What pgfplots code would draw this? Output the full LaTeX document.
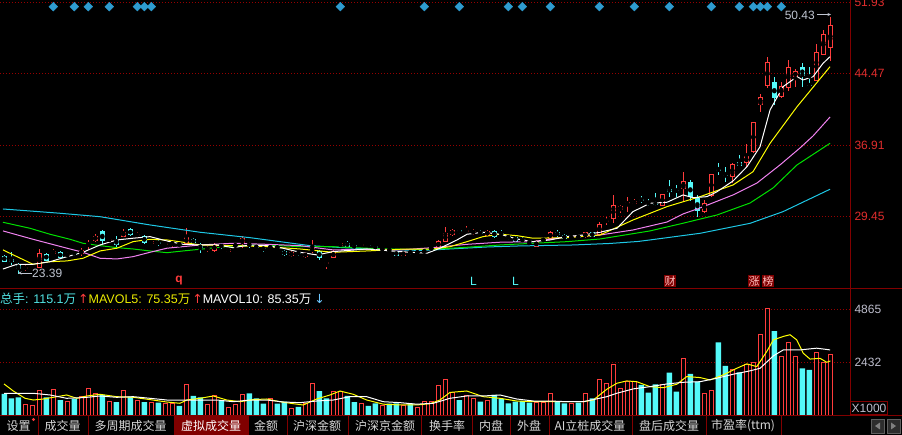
\documentclass[border=0pt]{standalone}
\usepackage{pgfplots}
\pgfplotsset{compat=1.18}
\usepackage{pgfplotstable}
\usetikzlibrary{arrows.meta}
\usepackage{fontspec}
\setmainfont{Liberation Sans}
\newfontfamily\cjk{Noto Sans CJK SC}
\newfontfamily\sym{DejaVu Sans}
\definecolor{upred}{RGB}{255,60,60}
\definecolor{dncyan}{RGB}{84,250,250}
\definecolor{gridred}{RGB}{150,0,0}
\definecolor{sepred}{RGB}{130,0,0}
\definecolor{ma10c}{RGB}{255,255,0}
\definecolor{ma20c}{RGB}{240,130,240}
\definecolor{ma30c}{RGB}{0,225,0}
\definecolor{ma60c}{RGB}{30,200,230}
\definecolor{dia}{RGB}{46,156,208}
\definecolor{lbl}{RGB}{190,196,208}
\definecolor{pricelbl}{RGB}{225,45,45}
\definecolor{vollbl}{RGB}{190,190,205}
\definecolor{tabbg}{RGB}{128,0,0}
\definecolor{tabtxt}{RGB}{215,215,215}
\definecolor{legcyan}{RGB}{80,225,225}
\definecolor{legyel}{RGB}{235,235,0}
\definecolor{legblue}{RGB}{110,200,255}

\pgfplotstableread{
i o h l c
3 23.92 24.28 23.65 24.02
4 23.86 24.18 23.65 23.97
5 24.00 25.97 23.97 25.52
7 25.41 25.97 25.34 25.76
9 25.29 25.66 25.13 25.39
11 25.41 26.08 25.23 25.87
12 26.39 26.92 25.87 26.50
13 26.81 27.55 26.71 27.34
15 26.87 27.13 26.71 26.97
17 27.27 28.05 27.23 27.79
19 27.39 27.76 27.13 27.50
21 26.46 26.92 26.39 26.81
23 26.44 26.81 26.29 26.55
24 26.50 26.87 26.08 26.60
26 26.46 28.15 26.39 27.27
29 25.92 26.29 25.66 26.02
30 25.76 26.60 25.66 26.46
32 25.69 26.08 25.55 25.94
33 26.29 26.60 26.08 26.39
34 26.57 27.37 26.05 27.16
38 26.08 26.39 25.87 26.18
41 25.23 25.76 25.13 25.62
43 25.16 25.60 25.07 25.52
44 25.76 26.92 25.52 26.05
46 24.36 24.71 23.86 24.63
47 24.99 25.81 24.97 25.76
48 26.29 26.66 26.23 26.57
51 26.29 26.55 26.23 26.50
54 25.92 26.18 25.76 26.02
57 25.26 25.76 25.18 25.62
59 25.55 25.87 25.34 25.66
60 25.66 25.97 25.44 25.76
61 25.97 26.29 25.81 26.08
62 26.11 26.87 26.02 26.81
63 26.74 28.29 26.71 27.62
64 27.44 28.08 27.34 27.97
66 27.81 28.39 27.60 27.92
67 27.71 28.02 27.44 27.81
69 27.37 27.97 27.29 27.90
76 26.21 26.87 26.13 26.81
77 26.87 27.13 26.71 26.97
78 27.02 27.87 26.92 27.79
81 27.13 27.39 26.97 27.23
83 27.18 27.76 27.13 27.73
85 27.44 28.85 27.39 28.60
86 28.87 29.37 28.50 28.97
87 29.10 31.66 28.74 30.60
88 30.08 30.55 29.76 30.50
89 30.68 31.41 29.90 30.89
90 30.68 31.20 30.60 31.03
94 30.50 31.76 30.45 31.73
97 32.26 34.11 30.89 33.13
100 29.87 31.13 29.73 30.85
101 31.58 33.87 31.48 33.84
104 33.58 34.99 32.95 34.89
106 34.99 37.03 34.64 35.76
107 36.22 39.34 36.11 39.31
108 41.13 42.29 40.43 42.01
109 43.13 46.16 42.89 45.63
111 42.01 43.52 41.90 43.13
112 42.96 45.87 42.64 45.10
113 44.05 44.92 43.00 44.71
116 43.69 47.56 43.66 46.68
117 46.40 49.03 46.35 48.58
118 47.17 50.43 45.77 49.56
}\upT

\pgfplotstableread{
i o h l c
0 25.23 25.34 24.60 24.63
1 24.92 25.62 24.28 24.57
2 24.36 24.50 23.38 23.86
6 25.44 25.55 24.71 24.74
8 25.69 25.76 24.92 24.99
10 25.55 25.87 25.23 25.39
14 27.87 27.97 26.50 26.81
16 26.92 27.37 26.21 26.39
18 28.05 28.13 27.34 27.44
20 27.37 27.44 26.50 26.63
22 26.66 26.92 26.29 26.55
25 26.50 26.71 26.18 26.39
27 27.02 27.13 26.50 26.57
28 26.46 26.55 25.55 25.97
31 26.34 26.60 25.97 26.23
35 26.50 26.71 26.08 26.39
36 26.29 26.39 25.97 26.08
37 26.08 26.21 25.69 25.97
39 26.18 26.29 25.97 26.08
40 25.76 25.87 25.23 25.34
42 25.60 25.76 25.26 25.50
45 25.76 25.87 24.86 25.05
49 26.63 26.81 26.18 26.21
50 26.39 26.44 26.08 26.11
52 26.44 26.55 26.18 26.34
53 26.23 26.39 25.97 26.13
55 25.92 26.08 25.66 25.81
56 25.69 25.76 25.23 25.26
58 25.66 25.87 25.34 25.55
65 27.97 28.02 27.55 27.73
68 27.71 27.92 27.44 27.60
70 27.87 27.97 27.08 27.23
71 27.60 28.02 27.29 27.50
72 27.34 27.39 26.92 27.10
73 27.27 27.39 26.71 26.74
74 26.97 27.18 26.66 26.87
75 26.76 26.92 26.23 26.66
79 27.73 27.97 27.18 27.39
80 27.44 27.50 26.97 27.02
82 27.29 27.44 27.02 27.18
84 27.73 27.76 27.18 27.27
91 31.18 31.55 30.78 31.08
92 30.81 31.24 30.50 30.71
93 30.85 31.84 30.50 30.60
95 32.29 33.24 31.48 32.00
96 32.18 32.71 31.48 32.08
98 32.99 33.24 31.06 31.48
99 31.37 31.66 29.31 29.97
102 34.34 34.99 33.76 34.24
103 33.76 34.64 33.06 33.66
105 35.10 35.87 34.66 34.71
110 43.52 44.05 41.13 41.84
114 45.10 45.59 43.00 44.19
115 43.29 45.17 43.13 43.19
}\dnT

\pgfplotstableread{
i v
3 473
4 427
5 1147
7 1193
9 656
11 854
12 1239
13 1010
15 624
17 1147
19 702
21 610
23 551
24 551
26 1423
29 473
30 886
32 367
33 473
34 932
38 780
41 321
43 532
44 1437
47 1083
48 1115
51 551
54 427
57 427
59 367
60 624
61 624
62 1346
63 1652
64 1056
66 886
67 780
69 702
76 578
77 578
78 1010
81 551
83 1010
85 1652
86 1437
87 2309
88 1239
89 1542
90 1542
94 1391
97 2616
100 1010
101 1161
104 2111
106 2341
107 2433
108 3718
109 4879
111 2690
112 3351
113 2690
116 2892
117 2433
118 2768
}\upV

\pgfplotstableread{
i v
0 978
1 780
2 826
6 826
8 702
10 748
14 932
16 610
18 854
20 610
22 578
25 427
27 886
28 826
31 670
35 1010
36 780
37 532
39 532
40 624
42 382
45 1115
46 780
49 886
50 610
52 427
53 551
55 532
56 551
58 551
65 702
68 624
70 932
71 748
72 551
73 624
74 656
75 578
79 624
80 551
82 578
84 780
91 1391
92 1037
93 1423
95 1955
96 1083
98 1896
99 1542
102 3351
103 2263
105 1974
110 3869
114 2157
115 2079
}\dnV

\pgfplotsset{
  cbar/.style 2 args={only marks, mark=none, error bars/.cd, y dir=both, y explicit, error mark=none, error bar style={draw=#1, line width=#2}},
  panebase/.style={
    anchor=south west, width=850pt, scale only axis,
    xmin=-0.614, xmax=120.81,
    axis line style={draw=none}, xtick=\empty,
    major tick length=0pt,
    ymajorgrids, grid style={gridred, dash pattern=on 1pt off 2pt, line width=0.8pt},
    yticklabel pos=right,
  },
}

\begin{document}
\begin{tikzpicture}
\fill[black] (0pt,0pt) rectangle (902pt,435pt);

% ---------------- price pane ----------------
\begin{axis}[panebase,
  at={(0pt,147pt)}, height=288pt,
  ymin=21.86, ymax=52.19,
  ytick={29.45,36.91,44.47,51.93},
  yticklabels={29.45,36.91,44.47,51.93},
  yticklabel style={anchor=west, xshift=1pt, text=pricelbl, font=\fontsize{12}{12}\selectfont},
]
\addplot[only marks, mark=square*, mark size=3.1pt, mark options={rotate=45, fill=dia, draw=dia}]
 coordinates {(7,51.49) (10,51.49) (12,51.49) (15,51.49) (19,51.49) (20,51.49) (21,51.49)
 (48,51.49) (60,51.49) (65,51.49) (72,51.49) (74,51.49) (78,51.49) (85,51.49) (90,51.49)
 (95,51.49) (101,51.49) (105,51.49) (107,51.49) (108,51.49) (109,51.49) (111,51.49)};
% down candles
\addplot[cbar={dncyan}{1pt}] table[x=i, y expr={(\thisrow{h}+\thisrow{l})/2}, y error expr={(\thisrow{h}-\thisrow{l})/2}] {\dnT};
\addplot[cbar={dncyan}{5pt}] table[x=i, y expr={(\thisrow{o}+\thisrow{c})/2}, y error expr={max(abs(\thisrow{o}-\thisrow{c})/2,0.05)}] {\dnT};
% up candles (hollow)
\addplot[cbar={upred}{1pt}] table[x=i, y expr={(\thisrow{h}+\thisrow{l})/2}, y error expr={(\thisrow{h}-\thisrow{l})/2}] {\upT};
\addplot[cbar={upred}{5pt}] table[x=i, y expr={(\thisrow{o}+\thisrow{c})/2}, y error expr={max(abs(\thisrow{c}-\thisrow{o})/2,0.05)}] {\upT};
\addplot[cbar={black}{3pt}] table[x=i, y expr={(\thisrow{o}+\thisrow{c})/2}, y error expr={max(abs(\thisrow{c}-\thisrow{o})/2-0.105,0)}] {\upT};
% moving averages
\addplot[ma60c, line width=1pt, mark=none] coordinates {(-0.19,30.18) (3.67,29.97) (7.96,29.73) (13.67,29.37) (20.81,28.50) (27.96,27.73) (35.1,27.16) (39.39,26.74) (43.67,26.32) (48.39,26.11) (53.24,25.94) (59.81,25.81) (63.67,25.97) (68.96,26.18) (73.67,26.29) (81.24,26.39) (86.53,26.55) (90.53,26.76) (92.24,26.92) (99.39,27.62) (106.53,28.67) (111.24,29.90) (117.96,32.26)};
\addplot[ma30c, line width=1pt, mark=none] coordinates {(-0.19,28.78) (3.67,28.15) (6.53,27.52) (9.39,26.99) (11.24,26.57) (13.67,26.32) (16.1,26.11) (18.39,25.97) (20.81,25.76) (23.24,25.58) (25.53,25.76) (27.96,25.94) (32.67,26.29) (37.53,26.39) (42.24,26.21) (46.96,26.21) (51.81,26.05) (56.53,25.94) (61.24,25.94) (66.1,26.15) (70.81,26.39) (75.53,26.57) (80.39,26.74) (85.1,27.02) (92.24,27.87) (96.96,28.68) (101.81,29.55) (106.53,30.81) (109.81,32.39) (113.24,34.82) (117.96,37.10)};
\addplot[ma20c, line width=1pt, mark=none] coordinates {(-0.19,27.87) (4.1,26.99) (8.96,26.05) (11.24,25.62) (13.67,24.99) (16.1,24.92) (18.39,25.16) (20.81,25.62) (23.24,26.05) (27.96,26.39) (32.67,26.57) (37.53,26.46) (42.24,26.32) (46.96,25.87) (51.81,25.94) (56.53,25.87) (61.24,26.11) (66.1,26.46) (70.81,26.68) (75.53,26.74) (80.39,27.27) (85.1,27.44) (89.81,27.97) (94.67,28.81) (96.96,29.66) (99.39,30.29) (104.1,31.66) (107.53,32.92) (110.81,34.82) (113.67,36.61) (115.53,37.87) (117.96,39.87)};
\addplot[ma10c, line width=1pt, mark=none] coordinates {(-0.19,25.87) (1.81,25.16) (4.1,24.36) (6.53,24.63) (8.96,24.71) (11.24,24.99) (13.67,25.76) (16.1,26.05) (18.39,26.74) (20.81,26.99) (23.24,26.92) (25.53,26.68) (27.96,26.39) (32.67,26.32) (37.53,26.21) (42.24,25.97) (46.96,25.62) (51.81,25.76) (56.53,25.94) (61.24,25.97) (63.67,26.21) (66.1,26.74) (68.39,27.27) (70.81,27.52) (73.24,27.37) (75.53,27.10) (80.39,27.16) (85.1,27.44) (89.81,29.02) (94.67,30.43) (99.39,31.48) (104.1,32.71) (106.96,34.11) (109.39,37.10) (113.24,40.95) (117.96,45.17)};
\addplot[white, line width=1pt, mark=none] coordinates {(-0.19,23.86) (1.81,24.36) (4.1,24.36) (6.53,24.63) (8.96,25.16) (11.24,25.62) (13.67,26.39) (16.1,26.92) (18.39,27.10) (20.81,27.27) (23.24,26.81) (25.53,26.46) (27.96,26.39) (30.39,26.39) (32.67,26.11) (35.1,26.39) (37.53,26.32) (39.81,26.05) (42.24,25.62) (44.67,25.34) (46.96,25.69) (51.81,25.97) (56.53,25.69) (60.39,25.52) (62.24,26.05) (64.67,26.92) (66.1,27.52) (68.39,27.73) (70.81,27.52) (73.24,27.02) (75.53,26.74) (77.96,26.92) (80.39,27.27) (82.67,27.44) (85.1,27.73) (87.53,28.15) (89.81,29.90) (92.24,30.78) (94.67,30.89) (96.96,31.66) (98.39,31.37) (100.39,31.48) (101.81,32.00) (104.1,33.13) (106.1,34.64) (107.96,36.74) (109.39,40.61) (111.24,43.06) (113.24,44.11) (114.1,43.77) (115.53,44.11) (116.96,45.52) (117.96,46.22)};
\end{axis}

% ---------------- volume pane ----------------
\begin{axis}[panebase,
  at={(0pt,19.7pt)}, height=126.8pt,
  ymin=0, ymax=5820,
  ytick={2432,4865},
  yticklabels={2432,4865},
  yticklabel style={anchor=west, xshift=1pt, text=vollbl, font=\fontsize{12}{12}\selectfont},
]
\addplot[ybar, bar width=5.5pt, bar shift=0pt, fill=dncyan, draw=none] table[x=i, y=v] {\dnV};
\addplot[ybar, bar width=4.4pt, bar shift=0pt, fill=black, draw=upred, line width=1pt] table[x=i, y=v] {\upV};
\addplot[ma10c, line width=1pt, mark=none] coordinates {(-0.04,1437) (1.29,1115) (2.96,780) (4.14,702) (5.57,748) (7.0,826) (8.91,932) (10.34,780) (11.77,886) (13.67,963) (16.06,854) (18.43,826) (20.81,720) (23.2,610) (25.1,551) (26.06,702) (27.96,780) (29.86,886) (31.77,702) (33.67,624) (35.57,720) (37.49,748) (39.39,624) (41.29,532) (42.71,473) (44.63,748) (46.53,932) (47.96,1115) (49.86,963) (51.77,702) (54.14,510) (56.53,473) (58.91,473) (60.81,532) (62.24,702) (63.67,1050) (66.06,1115) (68.43,854) (70.81,780) (73.2,656) (75.57,624) (77.96,624) (80.34,624) (82.71,624) (84.14,702) (86.06,1193) (87.49,1469) (88.91,1577) (90.34,1542) (92.24,1315) (94.14,1268) (96.06,1423) (97.49,1778) (99.39,1731) (100.81,1622) (102.71,1855) (104.63,2157) (106.06,2360) (107.49,2234) (108.91,2923) (109.86,3463) (111.29,3620) (112.24,3698) (113.2,3463) (114.14,2845) (115.1,2580) (116.53,2615) (117.49,2433) (118.0,2494)};
\addplot[white, line width=1pt, mark=none] coordinates {(-0.04,1010) (1.77,1010) (4.14,1010) (6.53,932) (8.91,780) (11.29,810) (13.67,886) (16.06,826) (18.43,854) (20.81,780) (23.2,702) (25.57,702) (27.96,702) (30.34,702) (32.71,624) (35.1,702) (37.49,702) (39.86,610) (42.24,580) (44.63,656) (47.0,702) (49.39,854) (51.77,854) (54.14,624) (56.53,580) (58.91,510) (61.29,551) (63.67,780) (66.06,886) (68.43,886) (70.81,932) (73.2,748) (75.57,656) (77.96,656) (80.34,624) (82.71,624) (84.14,720) (86.06,854) (87.49,1010) (89.86,1213) (92.24,1315) (94.63,1437) (96.99,1515) (99.39,1542) (101.77,1700) (104.14,1886) (106.53,2040) (107.96,2157) (109.86,2726) (111.29,3002) (113.67,3002) (115.1,3049) (116.06,3080) (117.96,3002)};
\end{axis}

% ---------------- frame lines ----------------
\draw[sepred, line width=1pt] (850.5pt,19.3pt) -- (850.5pt,435pt);
\draw[sepred, line width=1pt] (0pt,146.7pt) -- (902pt,146.7pt);
\draw[sepred, line width=1pt] (0pt,19.3pt) -- (902pt,19.3pt);

% ---------------- price pane annotations ----------------
\node[anchor=east, inner sep=0pt, text=lbl, font=\fontsize{12}{12}\selectfont] at (815pt,420pt) {50.43};
\draw[lbl, line width=0.8pt, -{Stealth[length=3.5pt,width=3pt]}] (817pt,420.5pt) -- (831pt,420.5pt);
\draw[lbl, line width=0.8pt, -{Stealth[length=3.5pt,width=3pt]}] (32pt,162pt) -- (18pt,162pt);
\node[anchor=west, inner sep=0pt, text=lbl, font=\fontsize{12}{12}\selectfont] at (32pt,162pt) {23.39};
\node[text=upred, font=\bfseries\fontsize{12}{12}\selectfont, inner sep=0pt] at (179pt,154pt) {q};
\node[text=dncyan, font=\fontsize{12}{12}\selectfont, inner sep=0pt] at (473.5pt,154pt) {L};
\node[text=dncyan, font=\fontsize{12}{12}\selectfont, inner sep=0pt] at (515.5pt,154pt) {L};
\node[fill=tabbg, text={rgb,255:red,255;green,190;blue,190}, font=\cjk\fontsize{11}{11}\selectfont, inner sep=0.6pt] at (670pt,154pt) {财};
\node[fill=tabbg, text={rgb,255:red,255;green,190;blue,190}, font=\cjk\fontsize{11}{11}\selectfont, inner sep=0.6pt] at (754pt,154pt) {涨};
\node[fill=tabbg, text={rgb,255:red,255;green,190;blue,190}, font=\cjk\fontsize{11}{11}\selectfont, inner sep=0.6pt] at (768pt,154pt) {榜};

% ---------------- volume pane annotations ----------------
\node[anchor=west, inner sep=0pt, font=\fontsize{12.5}{12.5}\selectfont] at (0pt,136pt)
 {\textcolor{legcyan}{{\cjk 总手}: 115.1{\cjk 万}}\hspace{2pt}\textcolor{upred}{\sym ↑}\textcolor{legyel}{MAVOL5: 75.35{\cjk 万}}\hspace{2pt}\textcolor{upred}{\sym ↑}\textcolor{white}{MAVOL10: 85.35{\cjk 万}}\hspace{3pt}\textcolor{legblue}{\sym ↓}};
\node[draw=sepred, line width=0.8pt, text=vollbl, inner sep=1pt, font=\fontsize{12}{12}\selectfont, minimum height=13pt] at (869pt,27pt) {X1000};

% ---------------- tab bar ----------------
\fill[tabbg] (174pt,0pt) rectangle (248.3pt,18.8pt);
\foreach \xx in {38.3,88.3,174,248.3,287.3,348.3,421.7,472.7,510.7,549,632.7,706.7,781.7}
  \draw[sepred, line width=1pt] (\xx pt,0pt) -- (\xx pt,19pt);
\begin{scope}[every node/.style={text=tabtxt, font=\cjk\fontsize{12}{12}\selectfont, inner sep=0pt}]
\node at (18.5pt,9pt) {设置};
\node at (62.5pt,9pt) {成交量};
\node at (130.5pt,9pt) {多周期成交量};
\node[text=white] at (211pt,9pt) {虚拟成交量};
\node at (266pt,9pt) {金额};
\node at (317pt,9pt) {沪深金额};
\node at (385pt,9pt) {沪深京金额};
\node at (447pt,9pt) {换手率};
\node at (491pt,9pt) {内盘};
\node at (529pt,9pt) {外盘};
\node at (590pt,9pt) {AI立桩成交量};
\node at (669pt,9pt) {盘后成交量};
\node at (743pt,9pt) {市盈率(ttm)};
\end{scope}
\fill[upred] (33.5pt,15.5pt) circle (1.6pt);
\filldraw[fill={rgb,255:red,45;green,45;blue,45}, draw={rgb,255:red,95;green,95;blue,95}] (871pt,2pt) rectangle (884pt,16pt);
\filldraw[fill={rgb,255:red,45;green,45;blue,45}, draw={rgb,255:red,95;green,95;blue,95}] (887pt,2pt) rectangle (900pt,16pt);
\fill[gray] (875pt,9pt) -- (880pt,12.5pt) -- (880pt,5.5pt) -- cycle;
\fill[gray] (896pt,9pt) -- (891pt,12.5pt) -- (891pt,5.5pt) -- cycle;

\pgfresetboundingbox
\path[use as bounding box] (0pt,0pt) rectangle (902pt,435pt);
\end{tikzpicture}
\end{document}
